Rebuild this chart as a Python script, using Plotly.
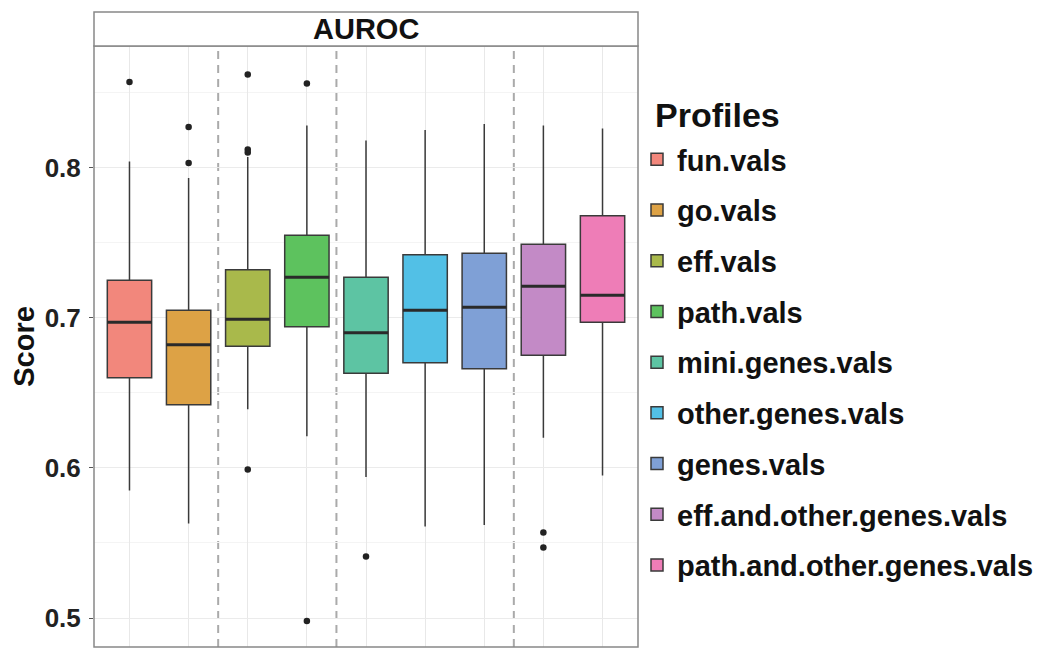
import plotly.graph_objects as go

profiles = ["fun.vals", "go.vals", "eff.vals", "path.vals", "mini.genes.vals",
            "other.genes.vals", "genes.vals", "eff.and.other.genes.vals",
            "path.and.other.genes.vals"]
positions = [1, 2, 3, 4, 5, 6, 7, 8, 9]
lower = [0.585, 0.563, 0.639, 0.621, 0.594, 0.561, 0.562, 0.620, 0.595]
q1 = [0.660, 0.642, 0.681, 0.694, 0.663, 0.670, 0.666, 0.675, 0.697]
median = [0.697, 0.682, 0.699, 0.727, 0.690, 0.705, 0.707, 0.721, 0.715]
q3 = [0.725, 0.705, 0.732, 0.755, 0.727, 0.742, 0.743, 0.749, 0.768]
upper = [0.804, 0.793, 0.807, 0.828, 0.818, 0.825, 0.829, 0.828, 0.826]
outliers = [[0.857], [0.827, 0.803], [0.862, 0.812, 0.810, 0.599], [0.856, 0.498],
            [0.541], [], [], [0.557, 0.547], []]
colors = ["#F2877C", "#DDA245", "#A9B94B", "#5DC25E", "#5DC4A3",
          "#52C0E6", "#7FA0D6", "#C38AC6", "#EE7DB7"]
separators = [2.5, 4.5, 7.5]
ytick_vals = [0.5, 0.6, 0.7, 0.8]
ytick_text = ["0.5", "0.6", "0.7", "0.8"]
box_width = 0.75

FONT = "Liberation Sans, Arial, sans-serif"

fig = go.Figure()

for i, name in enumerate(profiles):
    fig.add_trace(go.Box(
        x=[positions[i]], q1=[q1[i]], median=[median[i]], q3=[q3[i]],
        lowerfence=[lower[i]], upperfence=[upper[i]],
        name=name, legendgroup=name, width=box_width, whiskerwidth=0,
        fillcolor=colors[i], line=dict(color="#3a3a3a", width=1.5),
        boxpoints=False, hoverinfo="skip",
    ))

# thicker median lines (ggplot style)
mx, my = [], []
for i in range(len(profiles)):
    mx += [positions[i] - box_width / 2, positions[i] + box_width / 2, None]
    my += [median[i], median[i], None]
fig.add_trace(go.Scatter(x=mx, y=my, mode="lines", line=dict(color="#2a2a2a", width=3),
                         showlegend=False, hoverinfo="skip"))

# outliers
ox, oy = [], []
for i in range(len(profiles)):
    for v in outliers[i]:
        ox.append(positions[i])
        oy.append(v)
fig.add_trace(go.Scatter(x=ox, y=oy, mode="markers",
                         marker=dict(color="#222222", size=6.5),
                         showlegend=False, hoverinfo="skip"))

for s in separators:
    fig.add_vline(x=s, line=dict(color="#AAAAAA", width=2, dash="8px,6px"), layer="below")

# page body has an 8px margin; target pixel coords are shifted by OFF
OFF = 8
W, H = 1055, 648
L, R, T, B = 94 - OFF, 638 - OFF, 46 - OFF, 647 - OFF
plot_w = R - L
plot_h = B - T


def px_x(p):
    return (p - OFF - L) / plot_w


def px_y(p):
    return (B - (p - OFF)) / plot_h


fig.update_layout(
    width=W, height=H,
    margin=dict(l=L, r=W - R, t=T, b=H - B, autoexpand=False),
    paper_bgcolor="white", plot_bgcolor="white",
    boxmode="overlay",
    font=dict(family=FONT, color="#111111"),
    xaxis=dict(range=[0.4, 9.6], tickvals=positions, showticklabels=False,
               showgrid=True, gridcolor="#E8E8E8", gridwidth=1.2,
               zeroline=False, ticks="", showline=False),
    yaxis=dict(range=[0.4807, 0.881], tickvals=ytick_vals, ticktext=ytick_text,
               showgrid=True, gridcolor="#EBEBEB", gridwidth=1.2,
               minor=dict(tickvals=[0.55, 0.65, 0.75, 0.85], showgrid=True,
                          gridcolor="#F4F4F4", gridwidth=1),
               ticks="outside", ticklen=4, tickcolor="#555555",
               ticklabelstandoff=3,
               tickfont=dict(size=26, weight=700, color="#222222", family=FONT),
               zeroline=False, showline=False,
               title=dict(text="Score", font=dict(size=29, weight=700, color="#111111", family=FONT),
                          standoff=6)),
    legend=dict(x=px_x(637), xanchor="left", y=px_y(134), yanchor="top",
                font=dict(size=29, weight=700, color="#111111", family=FONT),
                tracegroupgap=10, itemwidth=30, bgcolor="rgba(0,0,0,0)"),
    showlegend=True,
)

# legend title
fig.add_annotation(text="Profiles", xref="paper", yref="paper", x=px_x(653), y=px_y(115),
                   xanchor="left", yanchor="middle", showarrow=False,
                   font=dict(size=34, weight=700, color="#111111", family=FONT))

# panel border
fig.add_shape(type="rect", xref="paper", yref="paper", x0=0, x1=1, y0=0, y1=1,
              line=dict(color="#888888", width=1.5), fillcolor="rgba(0,0,0,0)")
# strip
strip_top = 1 + 34 / plot_h
fig.add_shape(type="rect", xref="paper", yref="paper", x0=0, x1=1, y0=1, y1=strip_top,
              line=dict(color="#888888", width=1.5), fillcolor="white")
fig.add_annotation(text="AUROC", xref="paper", yref="paper", x=0.5, y=(1 + strip_top) / 2,
                   showarrow=False, font=dict(size=29, weight=700, color="#111111", family=FONT),
                   yanchor="middle")

fig.write_html("out.html")
